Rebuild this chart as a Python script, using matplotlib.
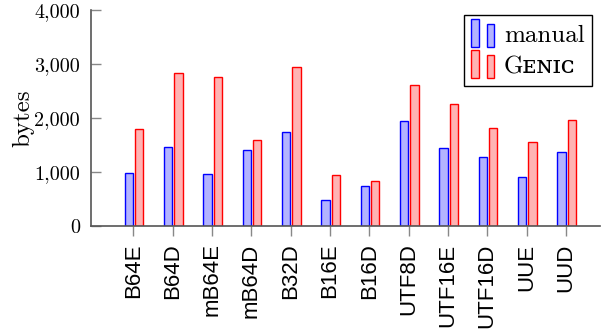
import numpy as np
import matplotlib.pyplot as plt
from matplotlib.patches import Rectangle, Patch
from matplotlib.legend_handler import HandlerBase

labels = ["B64E", "B64D", "mB64E", "mB64D", "B32D", "B16E", "B16D",
          "UTF8D", "UTF16E", "UTF16D", "UUE", "UUD"]
manual = [976, 1457, 957, 1407, 1741, 481, 741, 1951, 1438, 1284, 902, 1370]
genic = [1800, 2827, 2759, 1586, 2938, 944, 833, 2611, 2253, 1809, 1556, 1957]

blue_fc, blue_ec = "#b3b3ff", "#0000ff"
red_fc, red_ec = "#ffb3b3", "#ff0000"


class TwoBars(HandlerBase):
    """pgfplots-style legend image: two small bars of different height."""
    def create_artists(self, legend, orig_handle, xdescent, ydescent,
                       width, height, fontsize, trans):
        fc = orig_handle.get_facecolor()
        ec = orig_handle.get_edgecolor()
        w = width * 0.3
        y0 = -ydescent - height * 0.15
        r1 = Rectangle((-xdescent, y0), w, height * 1.35,
                       facecolor=fc, edgecolor=ec, lw=1, transform=trans)
        r2 = Rectangle((-xdescent + width * 0.62, y0), w, height * 1.1,
                       facecolor=fc, edgecolor=ec, lw=1, transform=trans)
        return [r1, r2]


fig = plt.figure(figsize=(6.07, 3.30), dpi=100)
ax = fig.add_axes([0.150, 0.315, 0.838, 0.655])

x = np.arange(len(labels))
w = 0.21
ax.bar(x - 0.115, manual, w, facecolor=blue_fc, edgecolor=blue_ec, lw=1, zorder=2)
ax.bar(x + 0.15, genic, w, facecolor=red_fc, edgecolor=red_ec, lw=1, zorder=2)

ax.set_xlim(-1.075, 11.86)
ax.set_ylim(0, 4000)
ax.set_yticks([0, 1000, 2000, 3000, 4000])
ax.set_yticklabels(["0", "1,000", "2,000", "3,000", "4,000"],
                   family="cmr10", fontsize=14.5)
ax.set_xticks(x)
ax.set_xticklabels(labels, rotation=90, family="Liberation Sans", fontsize=16)
ax.set_ylabel("bytes", family="cmr10", fontsize=18, labelpad=0)

for s in ["top", "right"]:
    ax.spines[s].set_visible(False)
for s in ["left", "bottom"]:
    ax.spines[s].set_color("#555555")
    ax.spines[s].set_linewidth(1.2)
ax.tick_params(axis="y", direction="in", length=7, color="#888888", width=1, pad=8)
ax.tick_params(axis="x", direction="out", length=7.5, color="#888888", width=1, pad=5)

handles = [Patch(facecolor=blue_fc, edgecolor=blue_ec),
           Patch(facecolor=red_fc, edgecolor=red_ec)]
leg = ax.legend(handles, ["manual", "G\u1d07\u0274\u026a\u1d04"],
                handler_map={Patch: TwoBars()}, loc="upper right",
                bbox_to_anchor=(0.985, 0.975), fancybox=False,
                edgecolor="black", framealpha=1, handlelength=1.0,
                handleheight=0.9, handletextpad=0.3, labelspacing=0.3,
                borderpad=0.3, borderaxespad=0,
                prop={"family": ["cmr10", "DejaVu Serif"], "size": 18})
leg.get_frame().set_linewidth(1)

fig.savefig("out.png", dpi=100)
